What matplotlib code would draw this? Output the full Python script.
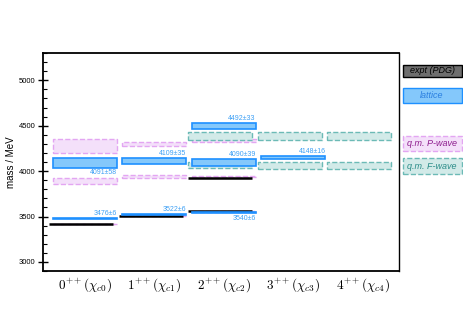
import numpy as np
import matplotlib
matplotlib.use('Agg')
import matplotlib.pyplot as plt
from matplotlib.patches import Rectangle

plt.rcParams['font.family'] = ['Liberation Sans', 'DejaVu Sans']
plt.rcParams['mathtext.fontset'] = 'cm'

# columns (J^PC)
columns = [r'$0^{++}(\chi_{c0})$', r'$1^{++}(\chi_{c1})$', r'$2^{++}(\chi_{c2})$',
           r'$3^{++}(\chi_{c3})$', r'$4^{++}(\chi_{c4})$']

# experiment (PDG)
pdg_col = [0, 1, 2, 2]
pdg_mass = [3414.7, 3510.7, 3556.2, 3927.2]

# lattice
lat_col = [0, 0, 1, 1, 2, 2, 2, 3]
lat_mass = [3476, 4091, 3522, 4109, 3540, 4090, 4492, 4148]
lat_err = [6, 58, 6, 35, 6, 39, 33, 16]
lat_above = [True, False, True, True, False, True, True, True]

# quark model P-wave
pw_col = [0, 0, 0, 1, 1, 1, 2, 2, 2]
pw_mass = [3415, 3890, 4277, 3511, 3942, 4296, 3556, 3940, 4340]
pw_err = [3, 36, 75, 3, 20, 24, 3, 10, 18]

# quark model F-wave
fw_col = [2, 2, 3, 3, 4, 4]
fw_mass = [4067, 4388, 4064, 4386, 4064, 4386]
fw_err = [37, 40, 37, 40, 37, 40]

hw = 0.46
shift = -0.05

blue_fill, blue_edge, blue_txt = '#84c8fb', '#1e90ff', '#3ea0f5'
pink_fill, pink_edge, pink_txt = '#f4e0fa', '#e3a6f2', '#8e1e8e'
teal_fill, teal_edge, teal_txt = '#d2eae8', '#6cbab6', '#2a8c88'

fig = plt.figure(figsize=(4.63, 3.14), dpi=100)
ax = fig.add_axes([0.093, 0.137, 0.769, 0.694])

# P-wave boxes
for c, m, e in zip(pw_col, pw_mass, pw_err):
    ax.add_patch(Rectangle((c - hw, m - e), 2 * hw, 2 * e, facecolor=pink_fill,
                           edgecolor=pink_edge, ls='--', lw=1.0, zorder=2))

# F-wave boxes
for c, m, e in zip(fw_col, fw_mass, fw_err):
    ax.add_patch(Rectangle((c - hw + shift, m - e), 2 * hw, 2 * e, facecolor=teal_fill,
                           edgecolor=teal_edge, ls='--', lw=1.0, zorder=2,
                           joinstyle='round'))

# PDG lines
for c, m in zip(pdg_col, pdg_mass):
    ax.plot([c - hw + shift, c + hw + shift], [m, m], color='black', lw=1.8, zorder=3,
            solid_capstyle='butt')

# lattice boxes
for c, m, e, up in zip(lat_col, lat_mass, lat_err, lat_above):
    ax.add_patch(Rectangle((c - hw, m - e), 2 * hw, 2 * e, facecolor=blue_fill,
                           edgecolor=blue_edge, lw=1.2, zorder=4))
    if up:
        ax.text(c + hw, m + e + 12, f'{m}±{e}', ha='right', va='bottom',
                fontsize=5, color=blue_txt, zorder=5)
    else:
        ax.text(c + hw, m - e - 12, f'{m}±{e}', ha='right', va='top',
                fontsize=5, color=blue_txt, zorder=5)

ax.set_xlim(-0.6, 4.52)
ax.set_ylim(2900, 5300)
ax.set_xticks(range(len(columns)))
ax.set_xticklabels(columns, fontsize=9.5)
ax.tick_params(axis='x', length=0, pad=4)
ax.set_yticks([3000, 3500, 4000, 4500, 5000])
ax.set_yticks(np.arange(2900, 5301, 100), minor=True)
ax.tick_params(axis='y', which='major', direction='inout', length=7, width=1,
               labelsize=5.5, pad=2)
ax.tick_params(axis='y', which='minor', direction='in', length=3, width=0.8)
ax.set_ylabel('mass / MeV', fontsize=7)
ax.yaxis.set_label_coords(-0.075, 0.5)
for s in ['left', 'bottom', 'top']:
    ax.spines[s].set_linewidth(1.3)
ax.spines['right'].set_linewidth(1.0)

# legend boxes
leg = [('expt (PDG)', '#6e6e6e', 'black', 'black', '-', 65, 76.7),
       ('lattice', blue_fill, blue_edge, '#2a7fe0', '-', 87.7, 102.7),
       ('q.m. P-wave', pink_fill, pink_edge, pink_txt, '--', 136, 151),
       ('q.m. F-wave', teal_fill, teal_edge, teal_txt, '--', 158.3, 174)]
W, H = 463, 314
for txt, fc, ec, tc, ls, y0, y1 in leg:
    fig.patches.append(Rectangle((402.5 / W, 1 - y1 / H), 59 / W, (y1 - y0) / H,
                                 facecolor=fc, edgecolor=ec, ls=ls, lw=1.0,
                                 transform=fig.transFigure, figure=fig))
    fig.text(432 / W, 1 - (y0 + y1) / 2 / H, txt, ha='center', va='center',
             fontsize=6.5, style='italic', color=tc)

fig.savefig('out.png', dpi=100)
